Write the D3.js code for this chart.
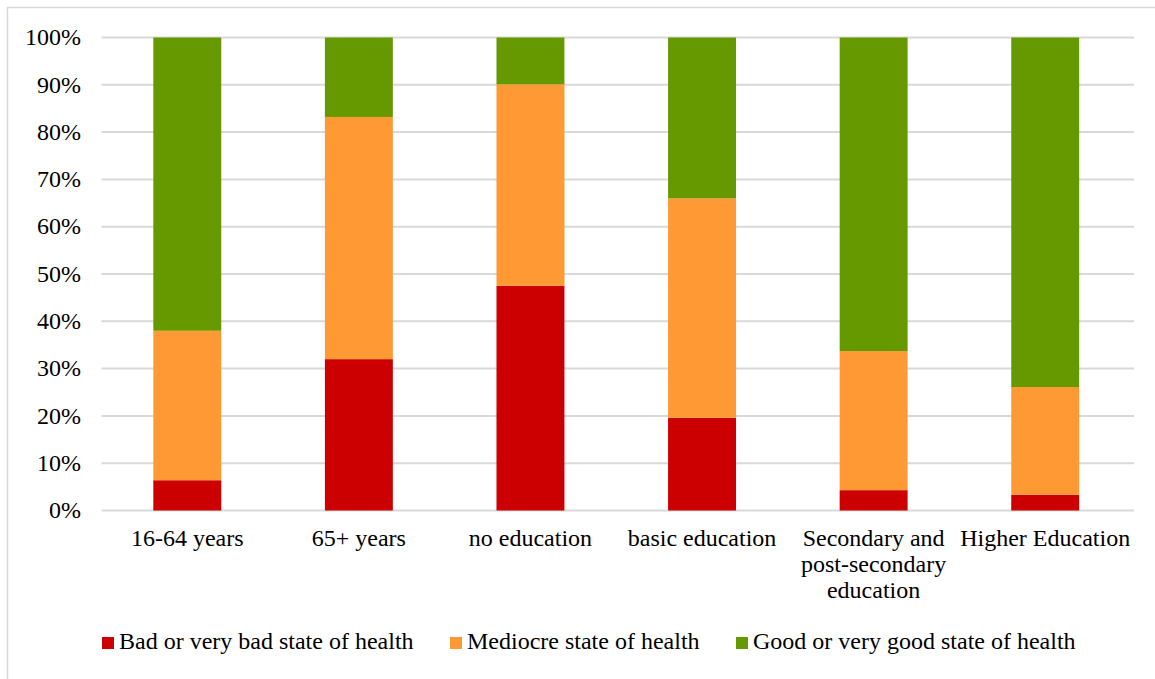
<!DOCTYPE html>
<html>
<head>
<meta charset="utf-8">
<script src="https://cdn.jsdelivr.net/npm/d3@7"></script>
<style>
  html, body { margin: 0; padding: 0; background: #fff; }
  svg { display: block; }
</style>
</head>
<body>
<svg id="chart" width="1155" height="679"></svg>
<script>
// Categories (line breaks in labels are marked with "\n")
const categories = [
  "16-64 years",
  "65+ years",
  "no education",
  "basic education",
  "Secondary and\npost-secondary\neducation",
  "Higher Education"
];

// Shares of respondents by self-rated health (%)
const badHealth      = [6.4, 32.0, 47.5, 19.6, 4.3, 3.3];
const mediocreHealth = [31.6, 51.2, 42.6, 46.4, 29.4, 22.8];
const goodHealth     = [62.0, 16.8, 9.9, 34.0, 66.3, 73.9];

const seriesNames = [
  "Bad or very bad state of health",
  "Mediocre state of health",
  "Good or very good state of health"
];
const seriesColors = ["#cc0000", "#ff9933", "#669900"];

const yTicks = [0, 10, 20, 30, 40, 50, 60, 70, 80, 90, 100];

const FONT = "'Liberation Serif', 'Times New Roman', Times, serif";
const FSIZE = "24px";

// Build rows for the stack layout
const rows = categories.map((c, i) => ({
  cat: c, s0: badHealth[i], s1: mediocreHealth[i], s2: goodHealth[i]
}));
const keys = ["s0", "s1", "s2"];
const stacked = d3.stack().keys(keys)(rows);

const svg = d3.select("#chart").style("font-family", FONT);

// Outer frame
svg.append("rect")
  .attr("x", 7.5).attr("y", 7.5)
  .attr("width", 1160).attr("height", 690)
  .attr("fill", "none").attr("stroke", "#d9d9d9").attr("stroke-width", 1.5);

const plot = { left: 101.5, right: 1131, top: 37.5, bottom: 510.5 };

const x = d3.scaleBand()
  .domain(categories)
  .range([plot.left, plot.right])
  .paddingInner(0.604)
  .paddingOuter(0.302);

const y = d3.scaleLinear()
  .domain([0, 100])
  .range([plot.bottom, plot.top]);

// Horizontal gridlines
svg.append("g")
  .selectAll("line")
  .data(yTicks)
  .join("line")
  .attr("x1", plot.left).attr("x2", 1134)
  .attr("y1", d => y(d)).attr("y2", d => y(d))
  .attr("stroke", "#d9d9d9").attr("stroke-width", 2);

// Y-axis labels
const yAxis = d3.axisLeft(y)
  .tickValues(yTicks)
  .tickFormat(d => d + "%")
  .tickSize(0)
  .tickPadding(0);
const yg = svg.append("g")
  .attr("transform", `translate(81,0)`)
  .call(yAxis)
  .attr("font-family", null)
  .attr("font-size", null);
yg.select(".domain").remove();
yg.selectAll("text")
  .style("font-family", FONT)
  .style("font-size", FSIZE)
  .attr("dy", "0.3em")
  .attr("fill", "#000");

// Stacked bars
svg.append("g")
  .selectAll("g")
  .data(stacked)
  .join("g")
  .attr("fill", (d, i) => seriesColors[i])
  .selectAll("rect")
  .data(d => d)
  .join("rect")
  .attr("x", d => x(d.data.cat))
  .attr("width", x.bandwidth())
  .attr("y", d => y(d[1]))
  .attr("height", d => y(d[0]) - y(d[1]));

// Category labels (multi-line)
const catG = svg.append("g");
categories.forEach(c => {
  const lines = c.split("\n");
  const cx = x(c) + x.bandwidth() / 2;
  const t = catG.append("text")
    .attr("text-anchor", "middle")
    .style("font-family", FONT)
    .style("font-size", FSIZE)
    .attr("fill", "#000")
    .attr("x", cx)
    .attr("y", 546);
  lines.forEach((ln, j) => {
    t.append("tspan")
      .attr("x", cx)
      .attr("dy", j === 0 ? 0 : 26)
      .text(ln);
  });
});

// Legend
const legendX = [102, 450, 736];
const lg = svg.append("g");
seriesNames.forEach((name, i) => {
  lg.append("rect")
    .attr("x", legendX[i]).attr("y", 637)
    .attr("width", 12).attr("height", 12)
    .attr("fill", seriesColors[i]);
  lg.append("text")
    .attr("x", legendX[i] + 17).attr("y", 649)
    .style("font-family", FONT)
    .style("font-size", FSIZE)
    .attr("fill", "#000")
    .text(name);
});
</script>
</body>
</html>
